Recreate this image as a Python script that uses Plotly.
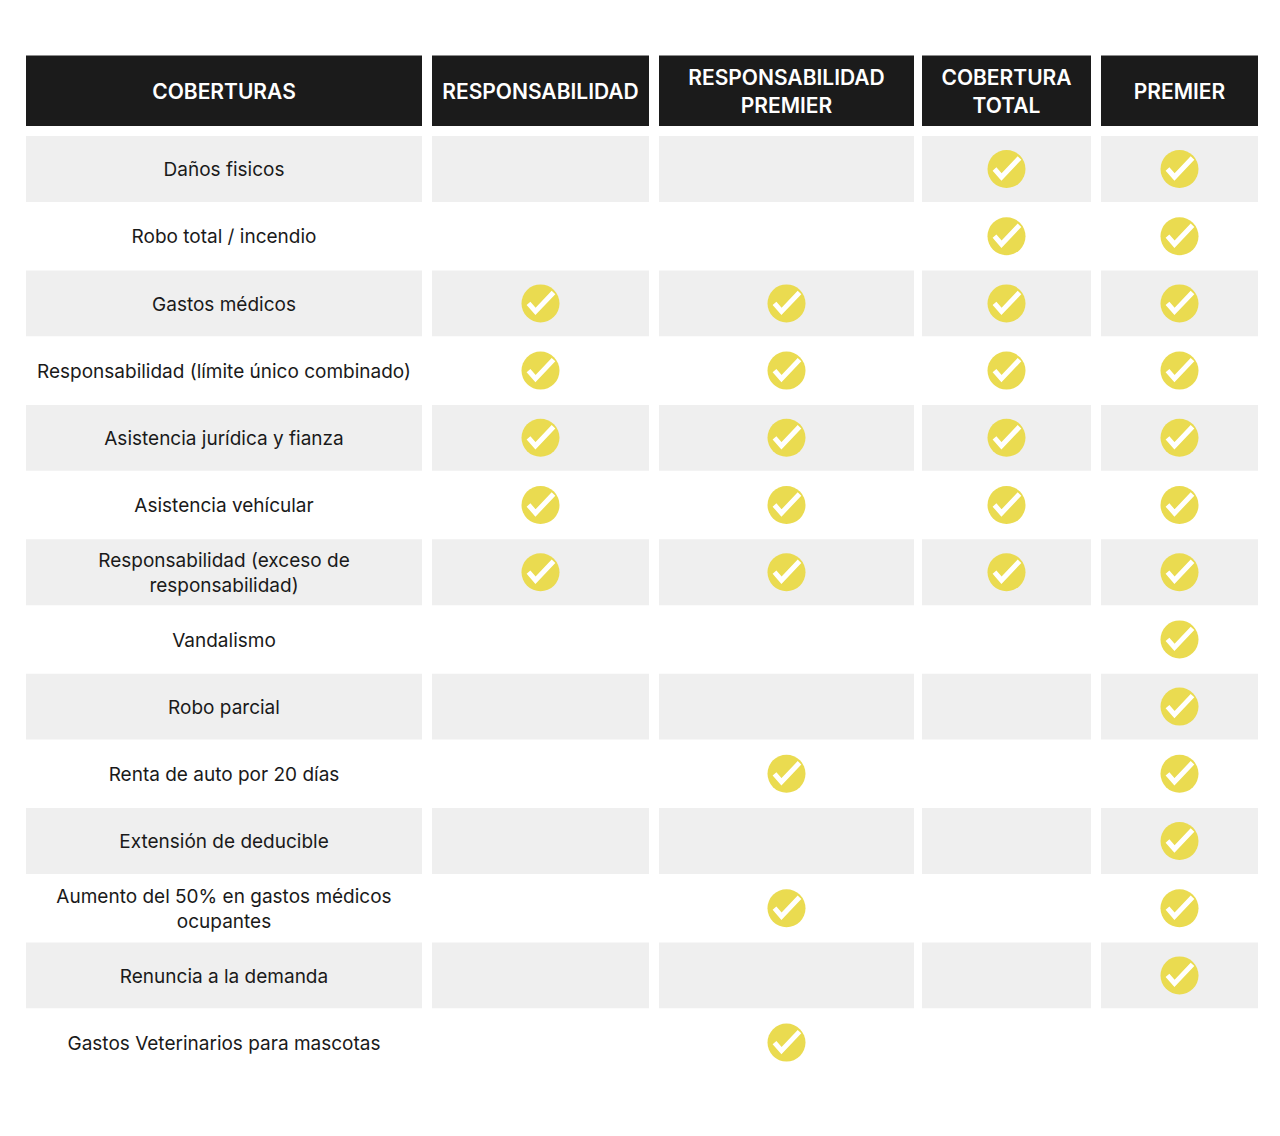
import plotly.graph_objects as go

# Table content
headers = ["COBERTURAS", "RESPONSABILIDAD", "RESPONSABILIDAD<br>PREMIER",
           "COBERTURA<br>TOTAL", "PREMIER"]
coberturas = [
    "Daños fisicos",
    "Robo total / incendio",
    "Gastos médicos",
    "Responsabilidad (límite único combinado)",
    "Asistencia jurídica y fianza",
    "Asistencia vehícular",
    "Responsabilidad (exceso de<br>responsabilidad)",
    "Vandalismo",
    "Robo parcial",
    "Renta de auto por 20 días",
    "Extensión de deducible",
    "Aumento del 50% en gastos médicos<br>ocupantes",
    "Renuncia a la demanda",
    "Gastos Veterinarios para mascotas",
]
# 1 = included, per plan column (Responsabilidad, Resp. Premier, Cobertura Total, Premier)
responsabilidad         = [0, 0, 1, 1, 1, 1, 1, 0, 0, 0, 0, 0, 0, 0]
responsabilidad_premier = [0, 0, 1, 1, 1, 1, 1, 0, 0, 1, 0, 1, 0, 1]
cobertura_total         = [1, 1, 1, 1, 1, 1, 1, 0, 0, 0, 0, 0, 0, 0]
premier                 = [1, 1, 1, 1, 1, 1, 1, 1, 1, 1, 1, 1, 1, 0]
plans = [responsabilidad, responsabilidad_premier, cobertura_total, premier]

# layout of columns (x axis in pixels across the page)
col_edges = [(26, 422), (432, 649), (659, 914), (922, 1091), (1101, 1258)]
col_mid = [(a + b) / 2 for a, b in col_edges]

HEADER_BG = "#1b1b1b"
ROW_BG = "#efefef"
YELLOW = "#eadb50"

fig = go.Figure()
shapes = []

# header cells
for a, b in col_edges:
    shapes.append(dict(type="rect", xref="x", yref="y", x0=a, x1=b, y0=-1.69, y1=-0.64,
                       fillcolor=HEADER_BG, line_width=0, layer="below"))
# striped rows
for r in range(len(coberturas)):
    if r % 2 == 0:
        for a, b in col_edges:
            shapes.append(dict(type="rect", xref="x", yref="y", x0=a, x1=b,
                               y0=r - 0.49, y1=r + 0.49,
                               fillcolor=ROW_BG, line_width=0, layer="below"))

# header labels
fig.add_trace(go.Scatter(
    x=col_mid, y=[-1.12] * len(headers), text=headers, mode="text",
    textfont=dict(family="Inter", size=21, color="white", weight=600),
    hoverinfo="skip", showlegend=False,
))

# row labels
fig.add_trace(go.Scatter(
    x=[col_mid[0]] * len(coberturas), y=[r + 0.035 for r in range(len(coberturas))],
    text=coberturas, mode="text",
    textfont=dict(family="Inter", size=19, color="#1a1a1a"),
    hoverinfo="skip", showlegend=False,
))

# check marks
cx, cy = [], []
for j, plan in enumerate(plans):
    for r, v in enumerate(plan):
        if v:
            cx.append(col_mid[j + 1])
            cy.append(r)
fig.add_trace(go.Scatter(
    x=cx, y=cy, mode="markers",
    marker=dict(size=38, color=YELLOW, line_width=0),
    hoverinfo="skip", showlegend=False,
))
for x, y in zip(cx, cy):
    shapes.append(dict(type="path", xref="x", yref="y", xsizemode="pixel", ysizemode="pixel",
                       xanchor=x, yanchor=y, path="M -12,0 L -5,-8 L 13,11",
                       line=dict(color="white", width=5), layer="above"))

fig.update_layout(
    width=1280, height=1136,
    margin=dict(l=0, r=0, t=0, b=0),
    paper_bgcolor="white", plot_bgcolor="white",
    shapes=shapes,
    xaxis=dict(range=[8, 1288], visible=False, fixedrange=True),
    yaxis=dict(range=[14.509, -2.396], visible=False, fixedrange=True),
)

fig.write_html("out.html")
